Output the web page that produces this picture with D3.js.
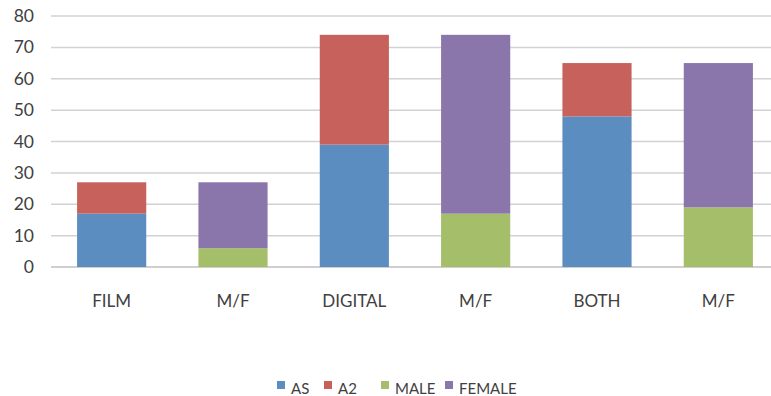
<!DOCTYPE html>
<html>
<head>
<meta charset="utf-8">
<script src="https://cdn.jsdelivr.net/npm/d3@7"></script>
<style>
  html, body { margin: 0; padding: 0; background: #fff; }
  svg { display: block; }
  text { font-family: Lato, "Open Sans", sans-serif; fill: #404040; }
</style>
</head>
<body>
<svg id="chart" width="771" height="396"></svg>
<script>
// Category labels along the x axis
const categories = ["FILM", "M/F", "DIGITAL", "M/F", "BOTH", "M/F"];
// Series values (null where a series has no bar in that column)
const AS     = [17, null, 39, null, 48, null];
const A2     = [10, null, 35, null, 17, null];
const MALE   = [null, 6, null, 17, null, 19];
const FEMALE = [null, 21, null, 57, null, 46];
const seriesNames = ["AS", "A2", "MALE", "FEMALE"];
const seriesColors = ["#5b8dc0", "#c6625b", "#a5be6a", "#8b76ab"];
const yTicks = [0, 10, 20, 30, 40, 50, 60, 70, 80];

const seriesValues = [AS, A2, MALE, FEMALE];
const rows = categories.map((c, i) => {
  const r = { key: i, label: c };
  seriesNames.forEach((s, j) => { r[s] = seriesValues[j][i] || 0; });
  return r;
});

const svg = d3.select("#chart");
const margin = { left: 51, right: -8, top: 16, bottom: 129 };
const W = 771, H = 396;

const x = d3.scaleBand()
  .domain(rows.map(r => r.key))
  .range([margin.left, W - margin.right])
  .paddingInner(0.43)
  .paddingOuter(0.215);

const y = d3.scaleLinear()
  .domain([0, 80])
  .range([H - margin.bottom, margin.top]);

// Horizontal gridlines
svg.append("g")
  .selectAll("line")
  .data(yTicks)
  .join("line")
  .attr("x1", margin.left)
  .attr("x2", W)
  .attr("y1", d => y(d))
  .attr("y2", d => y(d))
  .attr("stroke", d => d === 0 ? "#bfbfbf" : "#d2d2d2")
  .attr("stroke-width", 1.5);

// Y axis labels
const yAxis = d3.axisLeft(y).tickValues(yTicks).tickSize(0).tickPadding(17);
const gy = svg.append("g")
  .attr("transform", `translate(${margin.left},0)`)
  .call(yAxis);
gy.select(".domain").remove();
gy.selectAll("text")
  .style("font-size", "17.5px")
  .style("font-family", "Lato, 'Open Sans', sans-serif")
  .attr("fill", "#404040");

// Stacked bars
const stack = d3.stack().keys(seriesNames);
const layers = stack(rows);
svg.append("g")
  .selectAll("g")
  .data(layers)
  .join("g")
  .attr("fill", (d, i) => seriesColors[i])
  .selectAll("rect")
  .data(d => d.filter(p => p[1] - p[0] > 0))
  .join("rect")
  .attr("x", d => x(d.data.key))
  .attr("width", x.bandwidth())
  .attr("y", d => y(d[1]))
  .attr("height", d => y(d[0]) - y(d[1]));

// X axis labels
const xAxis = d3.axisBottom(x).tickSize(0).tickPadding(28)
  .tickFormat(k => categories[k]);
const gx = svg.append("g")
  .attr("transform", `translate(0,${y(0)})`)
  .call(xAxis);
gx.select(".domain").remove();
gx.selectAll("text")
  .style("font-size", "17px")
  .style("font-family", "Lato, 'Open Sans', sans-serif")
  .attr("fill", "#404040");

// Legend
const legendX = [277, 324, 381, 445];
const legend = svg.append("g");
seriesNames.forEach((s, i) => {
  const g = legend.append("g").attr("transform", `translate(${legendX[i]},381)`);
  g.append("rect").attr("width", 8).attr("height", 8).attr("fill", seriesColors[i]);
  g.append("text").attr("x", 14).attr("y", 13)
    .style("font-size", "15px").text(s);
});
</script>
</body>
</html>
